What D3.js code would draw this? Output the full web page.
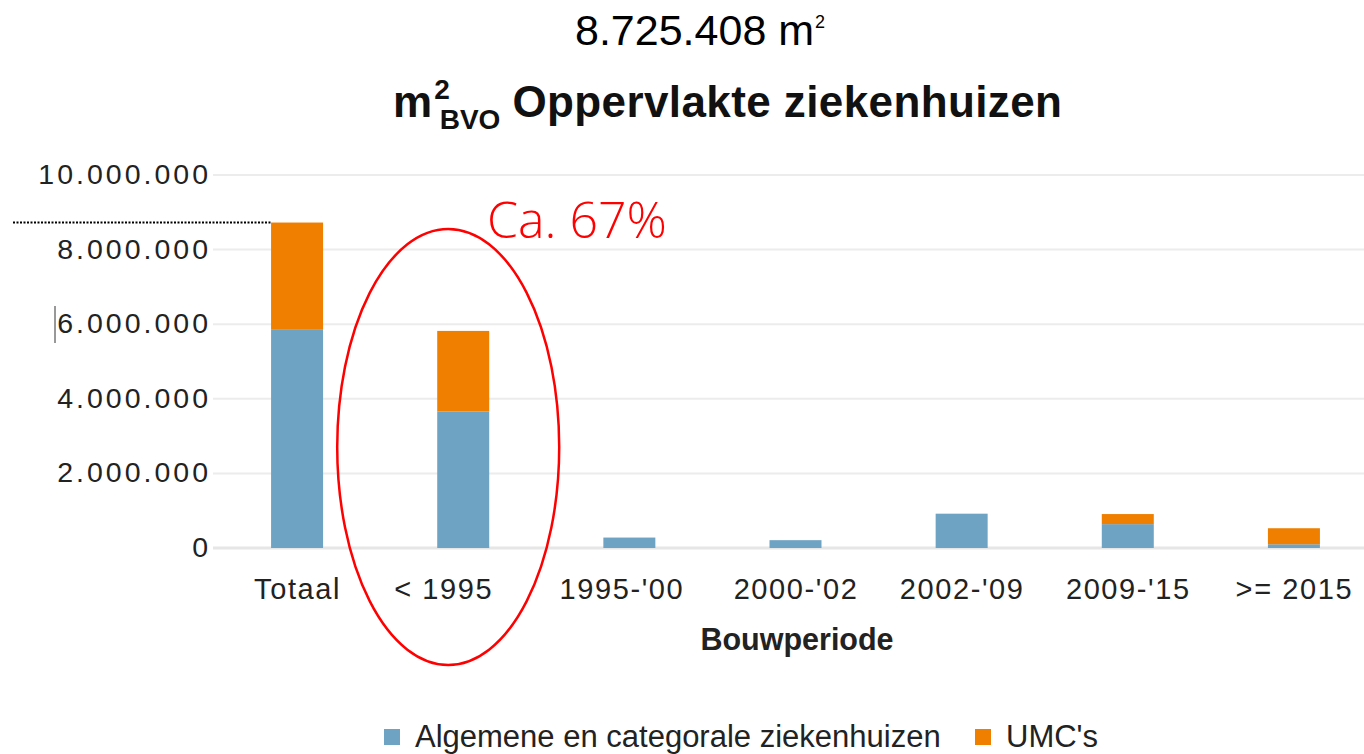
<!DOCTYPE html>
<html><head><meta charset="utf-8">
<script src="https://cdn.jsdelivr.net/npm/d3@7"></script>
<style>body{margin:0;background:#fff}svg{display:block}</style>
</head><body><svg id="c" width="1364" height="754"></svg>
<script>
const categories = ["Totaal", "< 1995", "1995-'00", "2000-'02", "2002-'09", "2009-'15", ">= 2015"];
const algemene = [5850000, 3660000, 280000, 210000, 920000, 640000, 100000];
const umc = [2875408, 2160000, 0, 0, 0, 270000, 430000];
const seriesNames = ["Algemene en categorale ziekenhuizen", "UMC's"];
const yTicks = [0, 2000000, 4000000, 6000000, 8000000, 10000000];
const totalLabel = "8.725.408 m";
const annotation = "Ca. 67%";

const svg = d3.select("#c");
const colors = ["#6fa3c4", "#f07f00"];
const x = d3.scalePoint().domain(categories).range([214, 1377]).padding(0.5);
const y = d3.scaleLinear().domain([0, 10000000]).range([548, 175]);
const barW = 52;
const fmt = v => d3.format(",")(v).replace(/,/g, ".");

// gridlines
svg.append("g").selectAll("line").data(yTicks).join("line")
  .attr("x1", 213).attr("x2", 1364)
  .attr("y1", d => y(d)).attr("y2", d => y(d))
  .attr("stroke", d => d === 0 ? "#e6e6e6" : "#ececec")
  .attr("stroke-width", d => d === 0 ? 3 : 2);

// y axis labels via d3 axis
const yAxis = svg.append("g").attr("transform", "translate(211,0)")
  .call(d3.axisLeft(y).tickValues(yTicks).tickFormat(fmt).tickSize(0).tickPadding(0));
yAxis.select(".domain").remove();
yAxis.selectAll("text").attr("font-family", "Liberation Sans, Arial, sans-serif")
  .attr("font-size", 28.5).attr("fill", "#222").attr("letter-spacing", 3).attr("dy", "0.3em");

// stacked bars
const data = categories.map((c, i) => ({cat: c, a: algemene[i], u: umc[i]}));
const stack = d3.stack().keys(["a", "u"])(data);
svg.append("g").selectAll("g").data(stack).join("g")
  .attr("fill", (d, i) => colors[i])
  .selectAll("rect").data(d => d.filter(s => s[1] - s[0] > 0)).join("rect")
  .attr("x", d => x(d.data.cat) - barW / 2).attr("width", barW)
  .attr("y", d => y(d[1])).attr("height", d => y(d[0]) - y(d[1]));

// x axis labels
const xAxis = svg.append("g").attr("transform", "translate(0,570)")
  .call(d3.axisBottom(x).tickSize(0).tickPadding(0));
xAxis.select(".domain").remove();
xAxis.selectAll("text").attr("font-family", "Liberation Sans, Arial, sans-serif")
  .attr("font-size", 29).attr("fill", "#222").attr("dy", "1.0em").attr("letter-spacing", 1.6)
  .attr("dx", d => d === "< 1995" ? -20 : (d === "1995-'00" ? -8 : 0));

// x axis title
svg.append("text").attr("x", 797).attr("y", 650).attr("text-anchor", "middle")
  .attr("font-family", "Liberation Sans, Arial, sans-serif").attr("font-weight", "bold")
  .attr("font-size", 30.5).attr("fill", "#222").text("Bouwperiode");

// chart title
const t = svg.append("text").attr("x", 393).attr("y", 117)
  .attr("font-family", "Liberation Sans, Arial, sans-serif").attr("font-weight", "bold")
  .attr("font-size", 44).attr("fill", "#111");
t.append("tspan").text("m");
t.append("tspan").attr("font-size", 28).attr("dy", -18).attr("dx", 2).text("2");
t.append("tspan").attr("font-size", 28).attr("dx", -10).attr("dy", 30).text("BVO");
t.append("tspan").attr("dy", -12).attr("dx", 12).attr("letter-spacing", 0.4).text("Oppervlakte ziekenhuizen");

// top total label
const tt = svg.append("text").attr("x", 575).attr("y", 45)
  .attr("font-family", "Liberation Sans, Arial, sans-serif")
  .attr("font-size", 43).attr("fill", "#000");
tt.append("tspan").text(totalLabel);
tt.append("tspan").attr("font-size", 18).attr("dy", -17).attr("dx", 1).text("2");

// dotted reference line at Totaal height
const tot = algemene[0] + umc[0];
svg.append("line").attr("x1", 13).attr("x2", x("Totaal") - barW / 2)
  .attr("y1", y(tot)).attr("y2", y(tot))
  .attr("stroke", "#000").attr("stroke-width", 2).attr("stroke-dasharray", "2,1.5");

// cursor mark
svg.append("line").attr("x1", 55).attr("x2", 55).attr("y1", 306).attr("y2", 343)
  .attr("stroke", "#333").attr("stroke-width", 1);

// red ellipse and annotation
svg.append("ellipse").attr("cx", x("< 1995") - 15).attr("cy", 447).attr("rx", 111).attr("ry", 218)
  .attr("fill", "none").attr("stroke", "#ff0000").attr("stroke-width", 2.5);
svg.append("text").attr("x", 487).attr("y", 238)
  .attr("font-family", "Open Sans, sans-serif").attr("font-weight", 300)
  .attr("font-size", 50).attr("fill", "#ff0000").text(annotation);

// legend
const lg = svg.append("g").attr("font-family", "Liberation Sans, Arial, sans-serif")
  .attr("font-size", 31).attr("fill", "#222");
const lx = [384, 975];
seriesNames.forEach((n, i) => {
  lg.append("rect").attr("x", lx[i]).attr("y", 729).attr("width", 16).attr("height", 16).attr("fill", colors[i]);
  lg.append("text").attr("x", lx[i] + 31).attr("y", 747).text(n);
});
</script></body></html>
